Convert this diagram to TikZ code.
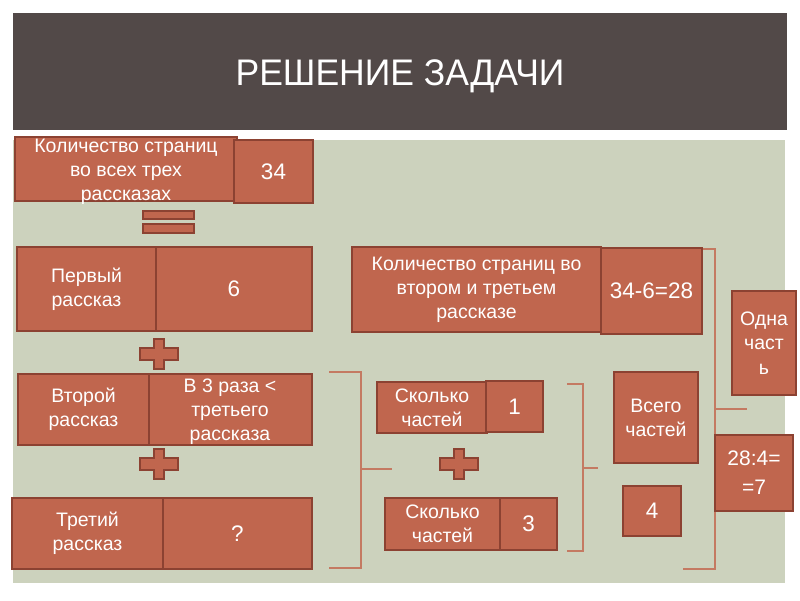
\documentclass[tikz,border=0pt]{standalone}
\usepackage{fontspec}
\setmainfont{Liberation Sans}
\newfontfamily\titlefont[FakeStretch=0.96]{Liberation Sans}
\definecolor{boxfill}{HTML}{C0664E}
\definecolor{boxline}{HTML}{8C4232}
\definecolor{panel}{HTML}{CCD2BD}
\definecolor{titlebg}{HTML}{524948}
\definecolor{brk}{HTML}{C47A62}
\tikzset{
  box/.style={draw=boxline, fill=boxfill, line width=1.4pt, text=white, inner sep=0pt, align=center,
    font=\fontsize{19.5}{24}\selectfont},
  numtext/.style={font=\fontsize{22.5}{27}\selectfont},
  txt/.style={text=white, inner sep=0pt, align=center, font=\fontsize{19.5}{24}\selectfont},
  crossst/.style={draw=boxline, fill=boxfill, line width=1.2pt},
  bracket/.style={draw=brk, line width=1.2pt}
}
\newcommand\rbox[6][]{\node[box,#1,minimum width={(#4)-(#2)}, minimum height={(#5)-(#3)}] (#6) at ({((#2)+(#4))/2},{((#3)+(#5))/2})}
\newcommand\pluss[2]{\draw[crossst, shift={(#1,#2)}] (-5,-15) -- (5,-15) -- (5,-6) -- (19,-6) -- (19,6) -- (5,6) -- (5,15) -- (-5,15) -- (-5,6) -- (-19,6) -- (-19,-6) -- (-5,-6) -- cycle;}
\begin{document}
\begin{tikzpicture}[x=1pt,y=-1pt]
\useasboundingbox (0,0) rectangle (800,600);
\fill[white] (0,0) rectangle (800,600);
% title bar and panel
\fill[titlebg] (13,13) rectangle (787,130);
\node[text=white, inner sep=0pt, font=\titlefont\fontsize{37}{40}\selectfont] (title) at (400,76) {РЕШЕНИЕ ЗАДАЧИ};
\fill[panel] (13,140) rectangle (785,583);
% row 1
\rbox{15}{137}{237}{201}{k1} {};
\node[txt] (k1t) at (126,172) {Количество страниц\\во всех трех\\рассказах};
\rbox[numtext]{234}{140}{313}{203}{n34} {34};
\draw[crossst] (143,211) rectangle (194,219);
\draw[crossst] (143,224) rectangle (194,233);
% row 2
\rbox{17}{247}{156}{331}{p1} {Первый\\рассказ};
\rbox[numtext]{156}{247}{312}{331}{p6} {6};
\pluss{159}{354}
% row 3
\rbox{18}{374}{149}{445}{v2} {Второй\\рассказ};
\rbox{149}{374}{312}{445}{v2r} {};
\node[txt] (v2rt) at (230,412) {В 3 раза <\\третьего\\рассказа};
\pluss{159}{464}
% row 4
\rbox{12}{498}{163}{569}{t3} {Третий\\рассказ};
\rbox[numtext]{163}{498}{312}{569}{q} {?};
% bracket 1
\draw[bracket] (329,372) -- (361,372) -- (361,568) -- (329,568);
\draw[bracket] (361,469) -- (392,469);
% parts
\rbox{377}{382}{487}{433}{s1} {Сколько\\частей};
\rbox[numtext]{486}{381}{543}{432}{one} {1};
\pluss{459}{464}
\rbox{385}{498}{500}{550}{s2} {Сколько\\частей};
\rbox[numtext]{500}{498}{557}{550}{three} {3};
% bracket 2
\draw[bracket] (567,384) -- (583,384) -- (583,551) -- (567,551);
\draw[bracket] (583,468) -- (598,468);
% second/third pages
\rbox{352}{247}{601}{332}{k2} {Количество страниц во\\втором и третьем\\рассказе};
\rbox[numtext]{601}{248}{702}{334}{r28} {34-6=28};
% bracket 3
\draw[bracket] (703,249) -- (715,249) -- (715,569) -- (683,569);
\draw[bracket] (715,409) -- (747,409);
% right column
\rbox{614}{372}{698}{463}{vsego} {Всего\\частей};
\rbox[numtext]{623}{486}{681}{536}{four} {4};
\rbox[font=\fontsize{19.5}{24.5}\selectfont]{732}{291}{796}{395}{odna} {Одна\\част\\ь};
\rbox[font=\fontsize{21}{29}\selectfont]{715}{435}{793}{511}{r7} {28:4=\\=7};
\end{tikzpicture}
\end{document}
